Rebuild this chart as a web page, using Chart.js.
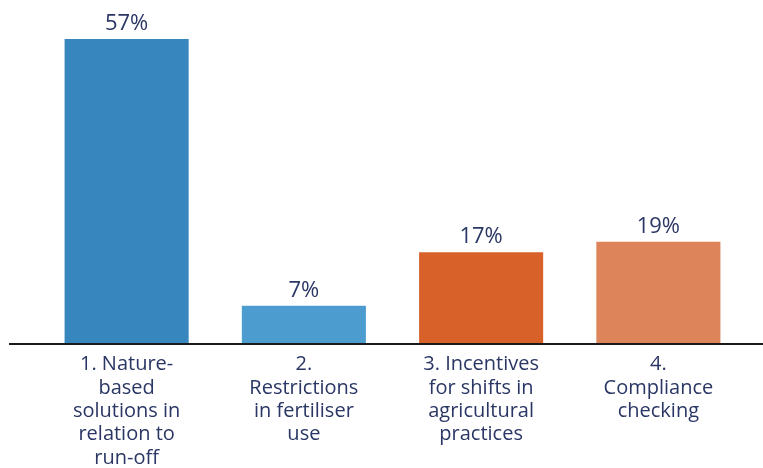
<!DOCTYPE html>
<html>
<head>
<meta charset="utf-8">
<script src="https://cdn.jsdelivr.net/npm/chart.js@4"></script>
<style>
  html, body { margin: 0; padding: 0; background: #fff; }
  #wrap { width: 763px; height: 468px; }
</style>
</head>
<body>
<div id="wrap"><canvas id="graph_1"></canvas></div>
<script>
// categories (multi-line labels)
var labels = [
    ['1. Nature-', 'based', 'solutions in', 'relation to', 'run-off'],
    ['2.', 'Restrictions', 'in fertiliser', 'use'],
    ['3. Incentives', 'for shifts in', 'agricultural', 'practices'],
    ['4.', 'Compliance', 'checking']
];
// share of responses, %
var values = [57, 7, 17, 19];
var barColors = ['#3786bd', '#4c9ccf', '#d8612a', '#dd845a'];

var textColor = '#2a3664';

// value labels above bars + long baseline
var barLabels = {
    id: 'barLabels',
    afterDatasetsDraw: function(chart) {
        var c = chart.ctx;
        var y0 = chart.scales.y.getPixelForValue(0);
        c.save();
        c.strokeStyle = '#1a1a1a';
        c.lineWidth = 2;
        c.beginPath();
        c.moveTo(9, y0 + 1);
        c.lineTo(chart.width, y0 + 1);
        c.stroke();

        c.fillStyle = textColor;
        c.font = '22px "Open Sans"';
        c.textAlign = 'center';
        c.textBaseline = 'alphabetic';
        chart.getDatasetMeta(0).data.forEach(function(bar, i) {
            c.fillText(values[i] + '%', bar.x, bar.y - 9);
        });
        c.restore();
    }
};

var ctx = document.getElementById('graph_1');
new Chart(ctx, {
    type: 'bar',
    data: {
        labels: labels,
        datasets: [{
            data: values,
            backgroundColor: barColors,
            borderWidth: 0,
            barPercentage: 0.7,
            categoryPercentage: 1.0
        }]
    },
    options: {
        responsive: true,
        maintainAspectRatio: false,
        animation: false,
        layout: { padding: { left: 38, right: 16, top: 23, bottom: 0 } },
        plugins: {
            legend: { display: false },
            tooltip: { enabled: false }
        },
        scales: {
            x: {
                grid: { display: false },
                border: { display: false },
                ticks: {
                    color: textColor,
                    font: { family: 'Open Sans', size: 20, lineHeight: 1.165 },
                    padding: 2,
                    maxRotation: 0,
                    autoSkip: false
                },
                // let the last label line run close to the bottom edge
                afterFit: function(scale) {
                    scale.height = 125;
                }
            },
            y: {
                display: false,
                min: 0,
                max: 60
            }
        }
    },
    plugins: [barLabels]
});
</script>
</body>
</html>
